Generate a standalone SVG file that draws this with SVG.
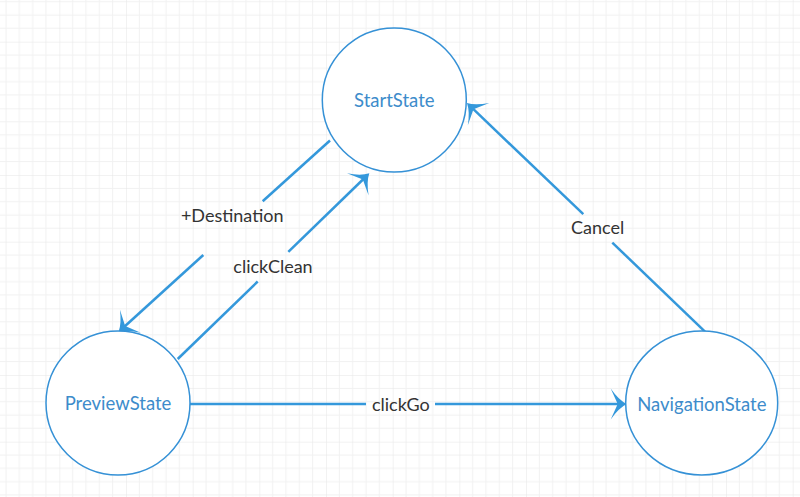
<svg xmlns="http://www.w3.org/2000/svg" width="800" height="497" viewBox="0 0 800 497">
  <style>
    .node { fill: #ffffff; stroke: #3591d6; stroke-width: 1.5; }
    .nlabel { font-family: Lato, "Open Sans", "Liberation Sans", sans-serif; font-size: 18.5px; fill: #3d8ccb; text-anchor: middle; }
    .elabel { font-family: Lato, "Open Sans", "Liberation Sans", sans-serif; font-size: 18px; fill: #333333; text-anchor: middle; }
    .edge { fill: none; stroke: #3498db; stroke-width: 2.5; }
  </style>
  <defs>
    <pattern id="grid" patternUnits="userSpaceOnUse" x="59.333" y="41.667" width="66.667" height="66.667">
      <g stroke="#f1f1f1" stroke-width="1">
        <line x1="13.333" y1="0" x2="13.333" y2="66.667"/>
        <line x1="26.667" y1="0" x2="26.667" y2="66.667"/>
        <line x1="40" y1="0" x2="40" y2="66.667"/>
        <line x1="53.333" y1="0" x2="53.333" y2="66.667"/>
        <line x1="0" y1="13.333" x2="66.667" y2="13.333"/>
        <line x1="0" y1="26.667" x2="66.667" y2="26.667"/>
        <line x1="0" y1="40" x2="66.667" y2="40"/>
        <line x1="0" y1="53.333" x2="66.667" y2="53.333"/>
      </g>
      <g stroke="#e6e6e6" stroke-width="1">
        <line x1="0" y1="0" x2="0" y2="66.667"/>
        <line x1="0" y1="0" x2="66.667" y2="0"/>
      </g>
    </pattern>
    <marker id="arrow" markerUnits="userSpaceOnUse" markerWidth="40" markerHeight="40" viewBox="0 0 40 40" refX="15" refY="20" orient="auto" overflow="visible">
      <path d="M21,20 Q13,16 5,4.5 L12,20 L5,35.5 Q13,24 21,20 Z" fill="#3498db"/>
    </marker>
  </defs>
  <rect x="0" y="0" width="800" height="497" fill="#ffffff"/>
  <rect x="0" y="0" width="800" height="497" fill="url(#grid)"/>

  <g id="connectors">
    <g id="edge-destination">
      <line class="edge" x1="330" y1="140.5" x2="262.7" y2="201.3"/>
      <line class="edge" x1="203.3" y1="255" x2="122.95" y2="327.97" marker-end="url(#arrow)"/>
      <text class="elabel" x="232.2" y="222.3">+Destination</text>
    </g>
    <g id="edge-clickclean">
      <line class="edge" x1="177.7" y1="359" x2="257.7" y2="281.5"/>
      <line class="edge" x1="288.3" y1="251.8" x2="365" y2="177.5" marker-end="url(#arrow)"/>
      <text class="elabel" x="273" y="272.7">clickClean</text>
    </g>
    <g id="edge-cancel">
      <line class="edge" x1="705" y1="331.7" x2="612.3" y2="242.6"/>
      <line class="edge" x1="583.3" y1="214.2" x2="471.3" y2="107.2" marker-end="url(#arrow)"/>
      <text class="elabel" x="597.7" y="234">Cancel</text>
    </g>
    <g id="edge-clickgo">
      <line class="edge" x1="190" y1="404" x2="366" y2="404"/>
      <line class="edge" x1="435" y1="404" x2="620.7" y2="404" marker-end="url(#arrow)"/>
      <text class="elabel" x="400.8" y="410.7">clickGo</text>
    </g>
  </g>

  <g id="StartState">
    <circle class="node" cx="394.3" cy="100" r="72"/>
    <text class="nlabel" x="394.3" y="107.3">StartState</text>
  </g>
  <g id="PreviewState">
    <circle class="node" cx="118" cy="403" r="72"/>
    <text class="nlabel" x="118" y="410">PreviewState</text>
  </g>
  <g id="NavigationState">
    <ellipse class="node" cx="701.7" cy="403" rx="76" ry="72"/>
    <text class="nlabel" x="701.8" y="410.7">NavigationState</text>
  </g>
</svg>
